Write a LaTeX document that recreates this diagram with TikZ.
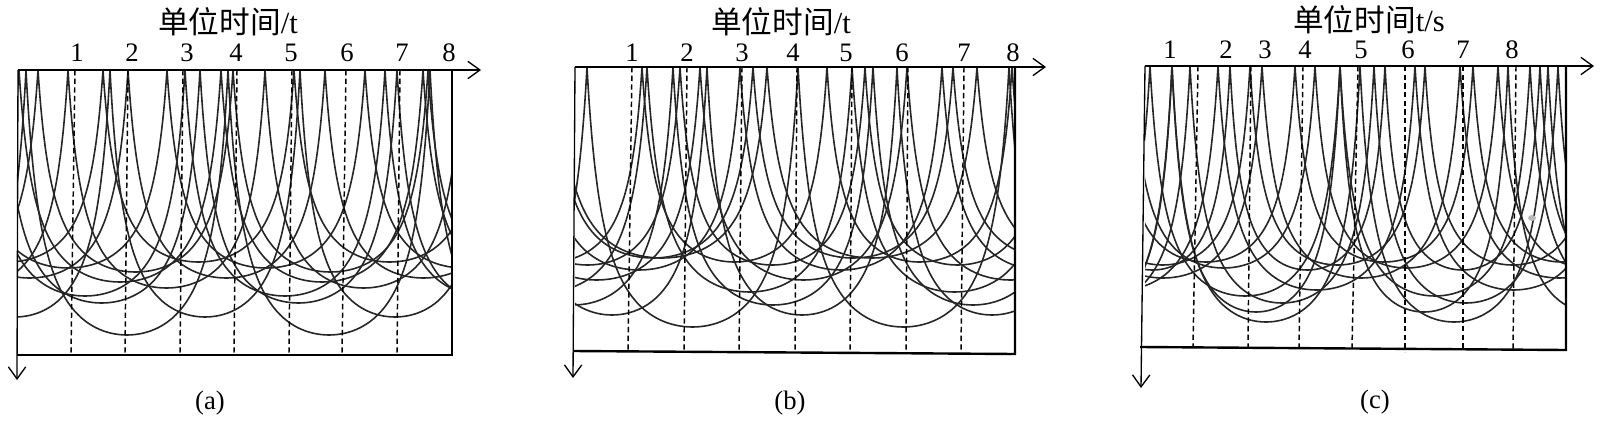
\documentclass[tikz,border=0pt]{standalone}
\usepackage{fontspec}
\setmainfont{Liberation Serif}
\newfontfamily\cjk{Noto Sans CJK SC}
\usetikzlibrary{arrows.meta}

\tikzset{
  curve/.style={line width=1.2pt, black!85},
  frame/.style={line width=1.8pt},
  axis/.style={line width=1pt, -{Straight Barb[length=9pt,width=13pt]}},
  guide/.style={line width=1.1pt, dash pattern=on 4pt off 2.5pt},
  lab/.style={font=\fontsize{20}{24}\selectfont, inner sep=0pt},
  head/.style={font=\fontsize{23}{27}\selectfont, inner sep=0pt},
}

% one row of U-shaped arcs: first cusp, period, lowest y, last index
\newcommand\arcchain[4]{%
  \foreach \k in {0,...,#4}{%
    \draw[curve] plot[domain=-90:90, samples=41, smooth]
      ({#1+(\k+0.5)*#2+0.5*#2*sin(\x)},
       {#3-(#3-\topy)*0.27*sin(\x)^2/(1-0.73*sin(\x)^2)});
  }%
}

\begin{document}
\begin{tikzpicture}[x=0.75pt, y=-0.75pt]

  \useasboundingbox (0,0) rectangle (1600,432);

  % ---------------- (a) ----------------
  \def\topy{70}
  \coordinate (a-tl) at (18,70);
  \coordinate (a-tr) at (452,70);
  \coordinate (a-br) at (452,355);
  \coordinate (a-bl) at (17,355);
  \coordinate (a-x) at (481,70);
  \coordinate (a-y) at (17,380);

  % arcs
  \begin{scope}
    \clip (a-tl) rectangle (a-br);
    \arcchain{-176}{202}{335}{3}
    \arcchain{-80}{190}{317}{2}
    \arcchain{3}{197}{303}{2}
    \arcchain{-129}{197}{288}{2}
    \arcchain{-157}{195}{272}{3}
    \arcchain{-88}{191}{262}{2}
    \arcchain{-31}{198}{268}{2}
    \arcchain{-69}{197}{278}{2}
    \arcchain{-183}{202}{282}{3}
    \arcchain{-15}{200}{296}{2}
  \end{scope}

  % unit lines
  \foreach \t/\b in {75/71,128/125,183/180,237/234,292/289,346/342,400/397}
    \draw[guide] (\t,70) -- (\b,353);

  % axes
  \draw[axis] (a-tl) -- (a-x);
  \draw[axis] (a-tl) -- (a-y);
  \draw[frame] (a-bl) -- (a-br) -- (a-tr);

  % labels
  \foreach \xx [count=\i] in {77,132,187,236,291,347,402,449}
    \node[lab] (a-n\i) at (\xx,53) {\i};
  \node[head] (a-title) at (228,22) {{\cjk 单位时间}/t};
  \node[lab] (a-cap) at (210,403) {(a)};

  % ---------------- (b) ----------------
  \def\topy{67}
  \coordinate (b-tl) at (575,67);
  \coordinate (b-tr) at (1015,67);
  \coordinate (b-br) at (1015,354);
  \coordinate (b-bl) at (573,351);
  \coordinate (b-x) at (1046,67);
  \coordinate (b-y) at (573,378);

  % arcs
  \begin{scope}
    \clip (b-tl) rectangle (b-br);
    \arcchain{376}{211}{327}{3}
    \arcchain{473}{200}{305}{2}
    \arcchain{442}{205}{292}{2}
    \arcchain{493}{207}{280}{2}
    \arcchain{538}{202}{270}{2}
    \arcchain{557}{210}{258}{2}
    \arcchain{457}{185}{262}{3}
    \arcchain{495}{185}{265}{2}
    \arcchain{517}{190}{315}{2}
    \arcchain{553}{200}{258}{2}
  \end{scope}

  % unit lines
  \foreach \t/\b in {632/628,687/684,742/739,797/795,852/850,908/906,964/961}
    \draw[guide] (\t,67) -- (\b,351);

  % axes
  \draw[axis] (b-tl) -- (b-x);
  \draw[axis] (b-tl) -- (b-y);
  \draw[frame] (b-bl) -- (b-br) -- (b-tr);

  % labels
  \foreach \xx [count=\i] in {632,687,742,793,846,902,964,1013}
    \node[lab] (b-n\i) at (\xx,53) {\i};
  \node[head] (b-title) at (781,22) {{\cjk 单位时间}/t};
  \node[lab] (b-cap) at (790,403) {(b)};

  % ---------------- (c) ----------------
  \def\topy{66}
  \coordinate (c-tl) at (1145,66);
  \coordinate (c-tr) at (1566,66);
  \coordinate (c-br) at (1566,350);
  \coordinate (c-bl) at (1140,347);
  \coordinate (c-x) at (1594,66);
  \coordinate (c-y) at (1141,388);

  % arcs
  \begin{scope}
    \clip (c-tl) rectangle (c-br);
    \arcchain{984}{188}{322}{3}
    \arcchain{1006}{184}{303}{3}
    \arcchain{1021}{197}{290}{2}
    \arcchain{1075}{175}{265}{2}
    \arcchain{1064}{198}{278}{2}
    \arcchain{1117}{178}{262}{2}
    \arcchain{1132}{183}{268}{2}
    \arcchain{1004}{168}{312}{3}
    \arcchain{1075}{155}{270}{3}
    \arcchain{960}{190}{296}{3}
  \end{scope}

  % unit lines
  \foreach \t/\b/\e in {1198/1193/347,1251/1248/347,1303/1299/347,1358/1352/348,
                        1405/1405/352,1463/1463/349,1516/1513/350}
    \draw[guide] (\t,66) -- (\b,\e);

  % stray dot
  \fill[gray!55] (1532,218) ellipse (4 and 3);

  % axes
  \draw[axis] (c-tl) -- (c-x);
  \draw[axis] (c-tl) -- (c-y);
  \draw[frame] (c-bl) -- (c-br) -- (c-tr);

  % labels
  \foreach \xx [count=\i] in {1170,1226,1265,1305,1361,1408,1463,1512}
    \node[lab] (c-n\i) at (\xx,50) {\i};
  \node[head] (c-title) at (1369,20) {{\cjk 单位时间}t/s};
  \node[lab] (c-cap) at (1375,402) {(c)};

\end{tikzpicture}
\end{document}
